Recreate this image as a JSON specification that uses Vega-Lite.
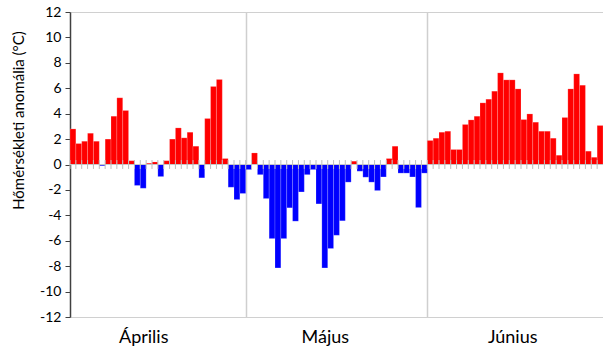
{
  "$schema": "https://vega.github.io/schema/vega-lite/v6.json",
  "width": 533,
  "height": 305,
  "autosize": {"type": "none"},
  "padding": {"left": 70, "top": 12, "right": 0, "bottom": 37},
  "background": "white",
  "config": {
    "view": {"stroke": "#d0d0d0", "strokeWidth": 1},
    "font": "Lato",
    "axisY": {
      "titleFontSize": 15,
      "titleFontWeight": "normal",
      "titleColor": "#000000",
      "titleY": 108,
      "titlePadding": 13,
      "labelOverlap": false,
      "labelBound": false,
      "grid": false,
      "domainColor": "#404040",
      "domainWidth": 1.5,
      "tickColor": "#404040",
      "tickSize": 5,
      "labelFontSize": 14,
      "labelColor": "#000000",
      "labelPadding": 4
    }
  },
  "data": {
    "values": [
      {"d": 1, "v": 2.8}, {"d": 2, "v": 1.65}, {"d": 3, "v": 1.83}, {"d": 4, "v": 2.46}, {"d": 5, "v": 1.83},
      {"d": 6, "v": -0.1}, {"d": 7, "v": 2.0}, {"d": 8, "v": 3.8}, {"d": 9, "v": 5.25}, {"d": 10, "v": 4.25},
      {"d": 11, "v": 0.3}, {"d": 12, "v": -1.65}, {"d": 13, "v": -1.87}, {"d": 14, "v": 0.1}, {"d": 15, "v": 0.2},
      {"d": 16, "v": -0.95}, {"d": 17, "v": 0.3}, {"d": 18, "v": 2.0}, {"d": 19, "v": 2.88}, {"d": 20, "v": 2.1},
      {"d": 21, "v": 2.54}, {"d": 22, "v": 1.44}, {"d": 23, "v": -1.05}, {"d": 24, "v": 3.62}, {"d": 25, "v": 6.14},
      {"d": 26, "v": 6.69}, {"d": 27, "v": 0.47}, {"d": 28, "v": -1.79}, {"d": 29, "v": -2.76}, {"d": 30, "v": -2.28},
      {"d": 31, "v": -0.4}, {"d": 32, "v": 0.91}, {"d": 33, "v": -0.8}, {"d": 34, "v": -2.68}, {"d": 35, "v": -5.83},
      {"d": 36, "v": -8.14}, {"d": 37, "v": -5.83}, {"d": 38, "v": -3.41}, {"d": 39, "v": -4.46}, {"d": 40, "v": -2.16},
      {"d": 41, "v": -0.8}, {"d": 42, "v": -0.4}, {"d": 43, "v": -3.1}, {"d": 44, "v": -8.14}, {"d": 45, "v": -6.61},
      {"d": 46, "v": -5.57}, {"d": 47, "v": -4.43}, {"d": 48, "v": -1.39}, {"d": 49, "v": 0.26}, {"d": 50, "v": -0.53},
      {"d": 51, "v": -1.0}, {"d": 52, "v": -1.39}, {"d": 53, "v": -2.05}, {"d": 54, "v": -0.98}, {"d": 55, "v": 0.47},
      {"d": 56, "v": 1.44}, {"d": 57, "v": -0.68}, {"d": 58, "v": -0.68}, {"d": 59, "v": -0.98}, {"d": 60, "v": -3.39},
      {"d": 61, "v": -0.68},
      {"d": 62, "v": 1.89}, {"d": 63, "v": 2.07}, {"d": 64, "v": 2.54}, {"d": 65, "v": 2.62}, {"d": 66, "v": 1.18},
      {"d": 67, "v": 1.18}, {"d": 68, "v": 3.15}, {"d": 69, "v": 3.51}, {"d": 70, "v": 3.8}, {"d": 71, "v": 4.85},
      {"d": 72, "v": 5.14}, {"d": 73, "v": 5.77}, {"d": 74, "v": 7.21}, {"d": 75, "v": 6.66}, {"d": 76, "v": 6.66},
      {"d": 77, "v": 5.95}, {"d": 78, "v": 3.54}, {"d": 79, "v": 3.98}, {"d": 80, "v": 3.33}, {"d": 81, "v": 2.62},
      {"d": 82, "v": 2.62}, {"d": 83, "v": 2.07}, {"d": 84, "v": 0.73}, {"d": 85, "v": 3.7}, {"d": 86, "v": 5.95},
      {"d": 87, "v": 7.13}, {"d": 88, "v": 6.24}, {"d": 89, "v": 1.05}, {"d": 90, "v": 0.57}, {"d": 91, "v": 3.07}
    ]
  },
  "encoding": {
    "x": {
      "field": "d",
      "type": "ordinal",
      "sort": "ascending",
      "scale": {"paddingInner": 0, "paddingOuter": 0},
      "axis": {
        "title": null,
        "tickBand": "extent",
        "ticks": false,
        "domain": false,
        "grid": true,
        "gridColor": "#cfcfcf",
        "gridWidth": 1.5,
        "gridOpacity": {"condition": {"test": "datum.value == 30 || datum.value == 61", "value": 1}, "value": 0},
        "labelAngle": 0,
        "labelOverlap": false,
        "labelExpr": "datum.value == 13 ? 'Április' : datum.value == 44 ? 'Május' : datum.value == 76 ? 'Június' : ''",
        "labelFontSize": 18,
        "labelColor": "#000000",
        "labelPadding": 11
      }
    }
  },
  "layer": [
    {
      "mark": {"type": "bar", "stroke": "#ffffff", "strokeOpacity": 0.35, "strokeWidth": 0.5},
      "encoding": {
        "y": {
          "field": "v",
          "type": "quantitative",
          "scale": {"domain": [-12, 12], "nice": false},
          "axis": {
            "title": "Hőmérsékleti anomália (°C)",
            "values": [-12, -10, -8, -6, -4, -2, 0, 2, 4, 6, 8, 10, 12],
            "labelExpr": "'' + datum.value"
          }
        },
        "color": {"condition": {"test": "datum.v < 0", "value": "#0000FF"}, "value": "#FF0000"}
      }
    },
    {
      "mark": {"type": "rule", "color": "#c8c8c8", "strokeWidth": 1},
      "encoding": {
        "x": null,
        "y": {"datum": 0, "type": "quantitative", "axis": {"title": "Hőmérsékleti anomália (°C)", "values": [-12, -10, -8, -6, -4, -2, 0, 2, 4, 6, 8, 10, 12], "labelExpr": "'' + datum.value"}}
      }
    },
    {
      "mark": {"type": "rule", "color": "#bdbdbd", "strokeWidth": 1},
      "encoding": {
        "x": {"field": "d", "type": "ordinal", "bandPosition": 0},
        "y": {"datum": -0.35, "type": "quantitative", "axis": {"title": "Hőmérsékleti anomália (°C)", "values": [-12, -10, -8, -6, -4, -2, 0, 2, 4, 6, 8, 10, 12], "labelExpr": "'' + datum.value"}},
        "y2": {"datum": 0.35}
      }
    }
  ]
}
